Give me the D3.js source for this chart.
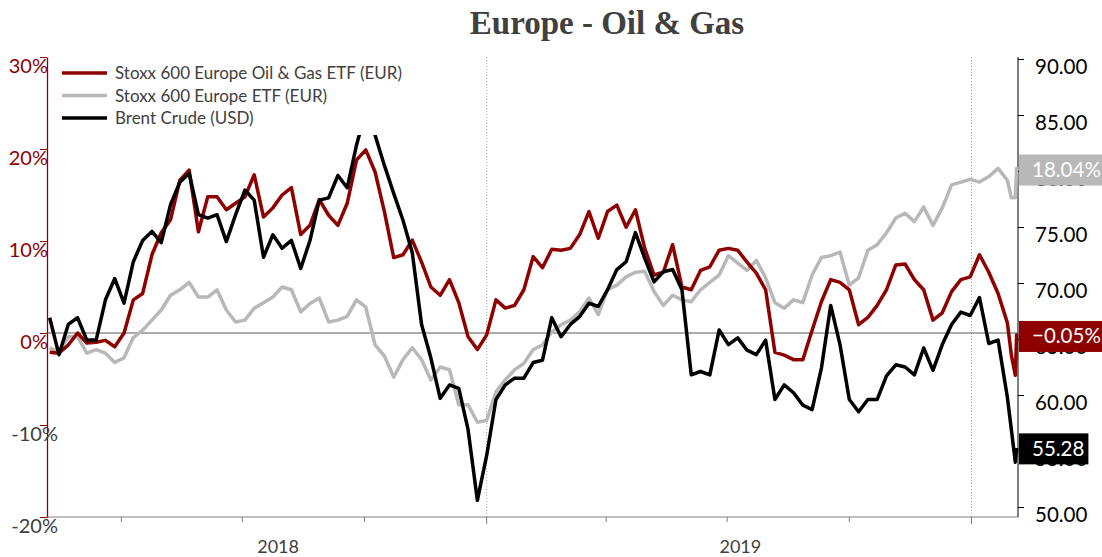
<!DOCTYPE html>
<html>
<head>
<meta charset="utf-8">
<script src="https://cdnjs.cloudflare.com/ajax/libs/d3/7.8.5/d3.min.js"></script>
<style>
  body { margin: 0; background: #fff; }
  svg { display: block; font-family: Lato, "Open Sans", sans-serif; }
</style>
</head>
<body>
<svg id="chart" width="1102" height="557"></svg>
<script>
// weekly closes from 6 Feb 2018, then the last few trading days
var firstWeek = new Date(2018, 1, 6);
var weekCount = 104;
var tailDates = ["2020-01-31", "2020-02-03", "2020-02-04"];

// Stoxx 600 Europe Oil & Gas ETF, % change
var oilGasPct = [
  -2.1, -2.2, -1.3, 0.0, -1.1, -1.0, -0.8, -1.5, 0.0, 3.6,
  4.3, 8.5, 10.9, 12.3, 16.6, 17.7, 11.0, 14.8, 14.8, 13.4,
  14.1, 14.8, 17.2, 12.6, 13.6, 15.0, 15.8, 10.7, 11.7, 14.5,
  12.8, 11.7, 14.1, 18.8, 19.9, 17.5, 13.2, 8.2, 8.5, 10.1,
  7.7, 5.0, 4.1, 5.8, 3.3, -0.4, -1.8, -0.2, 3.6, 2.7,
  3.0, 4.7, 8.3, 7.1, 9.1, 9.0, 9.2, 10.7, 13.2, 10.3,
  13.2, 13.9, 11.5, 13.4, 9.2, 6.3, 6.6, 9.6, 5.0, 4.7,
  6.8, 7.2, 9.0, 9.2, 9.0, 7.7, 6.5, 4.7, -2.1, -2.4,
  -2.9, -2.9, 0.3, 3.4, 5.8, 5.5, 4.7, 0.9, 1.7, 3.0,
  4.7, 7.4, 7.5, 5.8, 4.7, 1.4, 2.2, 4.5, 5.8, 6.1,
  8.5, 6.6, 4.3, 1.1, -2.4, -4.6, -0.05
];

// Stoxx 600 Europe ETF, % change
var stoxxPct = [
  -1.6, -2.1, -0.4, -0.4, -2.2, -1.8, -2.2, -3.2, -2.7, -0.5,
  0.3, 1.4, 2.5, 4.1, 4.7, 5.5, 3.9, 3.9, 4.7, 2.5,
  1.2, 1.4, 2.7, 3.3, 3.9, 5.0, 4.7, 2.3, 3.2, 3.8,
  1.2, 1.4, 1.8, 3.6, 2.8, -1.3, -2.5, -4.8, -2.9, -1.6,
  -2.9, -5.1, -3.7, -4.0, -7.8, -7.8, -9.7, -9.5, -6.4, -5.1,
  -4.0, -3.3, -1.8, -1.3, 0.1, 0.9, 1.4, 2.3, 3.8, 2.0,
  4.7, 5.2, 6.1, 6.6, 6.7, 4.5, 3.0, 4.1, 3.6, 3.4,
  4.7, 5.5, 6.3, 8.4, 7.6, 6.8, 7.9, 6.0, 3.3, 2.7,
  3.6, 3.3, 6.3, 8.2, 8.4, 8.8, 5.2, 6.0, 9.0, 9.6,
  10.9, 12.5, 13.0, 12.1, 13.7, 11.7, 13.6, 16.1, 16.4, 16.7,
  16.4, 17.0, 17.9, 16.6, 14.7, 14.7, 18.04
];

// Brent crude, USD
var brentUsd = [
  66.9, 63.6, 66.3, 66.9, 64.9, 64.9, 68.5, 70.4, 68.2, 71.9,
  73.8, 74.6, 73.6, 77.0, 79.0, 79.8, 76.1, 75.8, 76.1, 73.7,
  76.1, 78.3, 77.4, 72.3, 74.3, 73.1, 73.8, 71.3, 73.8, 77.4,
  77.6, 79.6, 78.5, 82.3, 85.4, 83.2, 80.5, 78.0, 75.6, 72.7,
  66.3, 63.3, 59.7, 60.9, 60.6, 56.9, 50.6, 54.6, 59.6, 60.9,
  61.5, 61.5, 62.9, 63.1, 66.9, 65.2, 66.3, 67.0, 68.2, 67.9,
  69.4, 71.2, 71.9, 74.5, 72.2, 70.1, 71.0, 71.2, 69.4, 61.8,
  62.1, 61.8, 65.8, 64.5, 65.1, 64.0, 63.6, 64.9, 59.6, 60.9,
  60.2, 59.1, 58.7, 62.4, 68.0, 64.5, 59.6, 58.5, 59.6, 59.6,
  61.7, 62.7, 62.5, 61.8, 64.2, 62.2, 64.5, 66.3, 67.4, 67.1,
  68.7, 64.6, 64.9, 59.8, 56.9, 54.0, 55.28
];

var pctTicks = [30, 20, 10, 0, -10, -20];
var usdTicks = [90, 85, 80, 75, 70, 65, 60, 55, 50];
var yearLabels = ["2018", "2019"];
var yearLabelDates = ["2018-07-28", "2019-07-11"];
var yearStarts = ["2019-01-01", "2020-01-01"];
var seriesNames = ["Stoxx 600 Europe Oil & Gas ETF (EUR)", "Stoxx 600 Europe ETF (EUR)", "Brent Crude (USD)"];

var RED = "#8f0000", GREY = "#b8b8b8", BLACK = "#000000";
var parseDate = d3.timeParse("%Y-%m-%d");

var dates = d3.range(weekCount).map(function(i) { return d3.timeDay.offset(firstWeek, 7 * i); })
  .concat(tailDates.map(parseDate));

var svg = d3.select("#chart");
var plotLeft = 47, plotRight = 1018, plotTop = 57, plotBottom = 517;

var x = d3.scaleTime()
  .domain([new Date(2018, 1, 4), new Date(2020, 1, 5)])
  .range([plotLeft, plotRight]);
var yPct = d3.scaleLinear().domain([-20, 30]).range([plotBottom, plotTop]);
var yUsd = d3.scaleLinear().domain([50, 90]).range([507, 59]);

// title
svg.append("text")
  .attr("x", 607).attr("y", 34)
  .attr("text-anchor", "middle")
  .style("font-family", "'Liberation Serif', serif")
  .style("font-weight", "bold")
  .style("font-size", "33px")
  .attr("fill", "#404040")
  .text("Europe - Oil & Gas");

// year separators (dotted)
svg.selectAll(".yearLine")
  .data(yearStarts.map(parseDate))
  .enter().append("line")
  .attr("x1", d => x(d)).attr("x2", d => x(d))
  .attr("y1", plotTop).attr("y2", plotBottom)
  .attr("stroke", "#a0a0a0")
  .attr("stroke-dasharray", "1,2");

// zero line
svg.append("line")
  .attr("x1", plotLeft).attr("x2", plotRight)
  .attr("y1", yPct(0)).attr("y2", yPct(0))
  .attr("stroke", "#595959").attr("stroke-width", 1);

// x axis: quarterly ticks, longer ones at year starts
var quarterTicks = x.ticks(d3.timeMonth.every(3));
svg.append("line")
  .attr("x1", plotLeft).attr("x2", plotRight)
  .attr("y1", plotBottom).attr("y2", plotBottom)
  .attr("stroke", "#7f7f7f");
svg.selectAll(".qTick")
  .data(quarterTicks)
  .enter().append("line")
  .attr("x1", d => x(d)).attr("x2", d => x(d))
  .attr("y1", plotBottom)
  .attr("y2", d => plotBottom + (d.getMonth() === 0 ? 7 : 5))
  .attr("stroke", "#7f7f7f");
svg.selectAll(".yearLabel")
  .data(yearLabels)
  .enter().append("text")
  .attr("x", (d, i) => x(parseDate(yearLabelDates[i])))
  .attr("y", 553)
  .attr("text-anchor", "middle")
  .attr("fill", "#404040")
  .style("font-size", "18px")
  .text(d => d);

// left axis (percent)
var gLeft = svg.append("g")
  .attr("transform", "translate(" + plotLeft + ",0)")
  .call(d3.axisLeft(yPct).tickValues(pctTicks).tickSize(7).tickSizeOuter(0)
    .tickFormat(d => d + "%"));
gLeft.select(".domain").attr("stroke", RED).attr("stroke-width", 1.3);
gLeft.selectAll(".tick line").attr("stroke", RED);
gLeft.selectAll(".tick text")
  .attr("x", d => d < 0 ? 11 : 1)
  .attr("dy", "0.78em")
  .attr("fill", d => d < 0 ? "#404040" : RED)
  .style("font-size", "20px")
  .style("font-family", "Lato, sans-serif");

// right axis (USD)
var gRight = svg.append("g")
  .attr("transform", "translate(" + plotRight + ",0)")
  .call(d3.axisRight(yUsd).tickValues(usdTicks).tickSize(6).tickSizeOuter(0)
    .tickFormat(d3.format(".2f")));
gRight.select(".domain").remove();
gRight.append("line")
  .attr("x1", 0).attr("x2", 0).attr("y1", plotTop).attr("y2", plotBottom)
  .attr("stroke", "#000");
gRight.selectAll(".tick line").attr("stroke", "#000");
gRight.selectAll(".tick text")
  .attr("x", 17)
  .attr("dy", "0.72em")
  .attr("fill", "#000")
  .style("font-size", "20.5px")
  .style("font-family", "Lato, sans-serif");

// series lines
var pctLine = d3.line().x((d, i) => x(dates[i])).y(d => yPct(d));
var usdLine = d3.line().x((d, i) => x(dates[i])).y(d => yUsd(d));

svg.append("path").attr("d", pctLine(stoxxPct))
  .attr("fill", "none").attr("stroke", GREY).attr("stroke-width", 3.5).attr("stroke-linejoin", "round");
svg.append("path").attr("d", pctLine(oilGasPct))
  .attr("fill", "none").attr("stroke", RED).attr("stroke-width", 3.5).attr("stroke-linejoin", "round");
svg.append("path").attr("d", usdLine(brentUsd))
  .attr("fill", "none").attr("stroke", BLACK).attr("stroke-width", 3.5).attr("stroke-linejoin", "round");

// legend (white box hides the top of the Brent peak, as in the original)
var legend = svg.append("g");
legend.append("rect")
  .attr("x", 50).attr("y", plotTop).attr("width", 360).attr("height", 78)
  .attr("fill", "#fff");
var legendColors = [RED, GREY, BLACK];
seriesNames.forEach(function(name, i) {
  var ly = 73 + i * 22.5;
  legend.append("line")
    .attr("x1", 62).attr("x2", 107).attr("y1", ly).attr("y2", ly)
    .attr("stroke", legendColors[i]).attr("stroke-width", 3.5);
  legend.append("text")
    .attr("x", 115).attr("y", ly + 6)
    .attr("fill", "#404040")
    .style("font-size", "17px")
    .text(name);
});

// end-value labels on the right
var lastStoxx = stoxxPct[stoxxPct.length - 1],
    lastOil = oilGasPct[oilGasPct.length - 1],
    lastBrent = brentUsd[brentUsd.length - 1];
var endLabels = [
  {y: yPct(lastStoxx) + 3, color: GREY, text: d3.format(".2f")(lastStoxx) + "%"},
  {y: yPct(lastOil) + 3, color: RED, text: d3.format(".2f")(lastOil) + "%"},
  {y: yUsd(lastBrent) + 1, color: BLACK, text: d3.format(".2f")(lastBrent)}
];
endLabels.forEach(function(d) {
  var g = svg.append("g");
  var rect = g.append("rect").attr("fill", d.color);
  var t = g.append("text")
    .attr("x", 1032).attr("y", d.y + 7)
    .attr("fill", "#fff")
    .style("font-size", "20.5px")
    .text(d.text);
  var w = t.node().getComputedTextLength();
  rect.attr("x", plotRight + 1).attr("y", d.y - 15.5)
    .attr("width", 1032 - plotRight - 1 + w + 4).attr("height", 31);
});
</script>
</body>
</html>
